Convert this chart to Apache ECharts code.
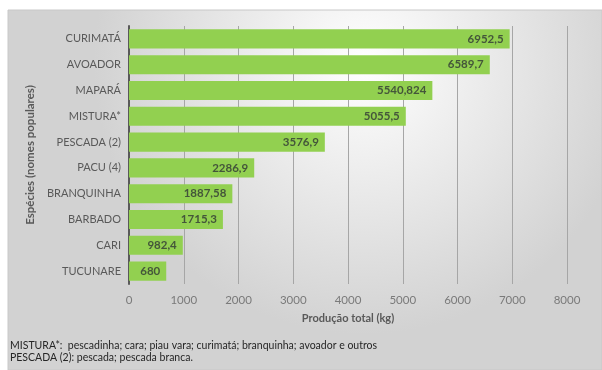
<!DOCTYPE html>
<html><head><meta charset="utf-8">
<script src="https://cdn.jsdelivr.net/npm/echarts@6/dist/echarts.min.js"></script>
<style>html,body{margin:0;padding:0;background:#fff}#c{width:602px;height:370px}</style>
</head><body><div id="c"></div>
<script>
const categories = ['CURIMATÁ','AVOADOR','MAPARÁ','MISTURA*','PESCADA (2)','PACU (4)','BRANQUINHA','BARBADO','CARI','TUCUNARE'];
const values = [6952.5, 6589.7, 5540.824, 5055.5, 3576.9, 2286.9, 1887.58, 1715.3, 982.4, 680];
const footnotes = ['MISTURA*:  pescadinha; cara; piau vara; curimatá; branquinha; avoador e outros','PESCADA (2): pescada; pescada branca.'];
const xName = 'Produção total (kg)';
const yName = 'Espécies (nomes populares)';
const FONT = 'Lato';
const chart = echarts.init(document.getElementById('c'), null, {renderer:'canvas'});
chart.setOption({
  animation:false,
  textStyle:{fontFamily:FONT},
  graphic:[
    {type:'rect', z:-10, shape:{x:8,y:10,width:594,height:360},
     style:{fill:{type:'radial',x:0.6,y:0.15,r:0.75,colorStops:[{offset:0,color:'#ffffff'},{offset:1,color:'#d2d2d2'}]},stroke:'#c8c8c8',lineWidth:1}},
    {type:'text', left:10, top:340, style:{text:footnotes[0], font:'10.5px '+FONT, fill:'#262626'}},
    {type:'text', left:10, top:352, style:{text:footnotes[1], font:'10.5px '+FONT, fill:'#262626'}}
  ],
  grid:{left:129,right:35,top:26,bottom:86},
  xAxis:{type:'value',min:0,max:8000,interval:1000,
    axisLine:{show:false},axisTick:{show:false},
    splitLine:{lineStyle:{color:'#a6a6a6',width:1}},
    axisLabel:{color:'#7a7a7a',fontSize:11.5,margin:10,fontFamily:FONT,formatter:v=>String(v)},
    name:xName,nameLocation:'middle',nameGap:29,
    nameTextStyle:{color:'#595959',fontSize:11,fontWeight:'bold',fontFamily:FONT}},
  yAxis:{type:'category',data:categories,inverse:true,
    axisLine:{show:true,lineStyle:{color:'#595959',width:2}},axisTick:{show:false},
    axisLabel:{color:'#595959',fontSize:11,margin:8,fontFamily:FONT},
    name:yName,nameLocation:'middle',nameGap:83,nameRotate:90,
    nameTextStyle:{color:'#595959',fontSize:11.5,fontWeight:'bold',fontFamily:FONT}},
  series:[{type:'bar',data:values,barCategoryGap:'26%',
    itemStyle:{color:'#92D050'},
    label:{show:true,position:'insideRight',distance:6,color:'#44563a',fontSize:11.5,fontWeight:'bold',fontFamily:FONT,
      formatter:p=>String(p.value).replace('.',',')}}]
});
</script></body></html>
